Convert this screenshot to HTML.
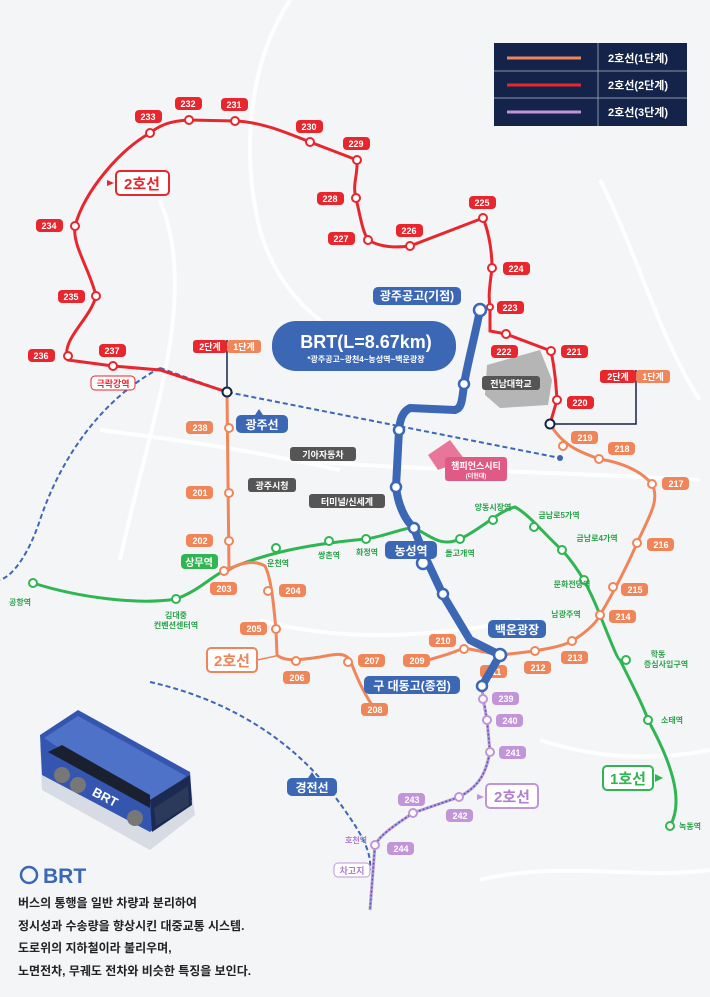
<!DOCTYPE html>
<html><head><meta charset="utf-8"><style>
html,body{margin:0;padding:0;background:#f3f4f6}
svg{display:block}
text{font-family:"Liberation Sans","Noto Sans CJK KR",sans-serif;font-weight:bold}
.lr text,.lo text,.lp text{fill:#fff;font-size:9px;text-anchor:middle}
.g{fill:#2aa34a;font-size:8px;text-anchor:middle}
.st{fill:#fff;stroke-width:2}
</style></head><body>
<svg width="710" height="997" viewBox="0 0 710 997" xmlns="http://www.w3.org/2000/svg">
<rect width="710" height="997" fill="#f4f5f7"/>
<g fill="none" stroke="#fff" stroke-width="4" opacity="0.9">
<path d="M290,0 C250,60 240,150 260,230 C280,300 330,340 420,370"/>
<path d="M160,200 C200,300 150,420 120,560"/>
<path d="M600,180 C640,260 660,340 700,400"/>
<path d="M300,460 C400,470 520,470 700,480"/>
<path d="M260,620 C330,640 420,640 520,620"/>
<path d="M540,740 C600,760 660,760 710,750"/>
<path d="M480,880 C560,860 640,880 710,870"/>
<path d="M100,430 C180,440 250,450 340,470"/>
</g>
<path d="M487,365 L540,350 L552,380 L548,405 L500,408 L485,395 Z" fill="#b5b5b5"/>
<rect x="482" y="376" width="58" height="14" rx="3" fill="#555"/><text x="511" y="387" font-size="9" fill="#fff" text-anchor="middle">전남대학교</text>
<path d="M428,455 L450,440 L465,460 L438,470 Z" fill="#e8769a"/>
<rect x="445" y="457" width="62" height="24" rx="3" fill="#e05a86"/><text x="476" y="469" font-size="9" fill="#fff" text-anchor="middle">챔피언스시티</text><text x="476" y="478" font-size="6" fill="#fff" text-anchor="middle">(더현대)</text>
<rect x="290" y="447" width="66" height="14" rx="3" fill="#555"/><text x="323" y="458" font-size="9" fill="#fff" text-anchor="middle">기아자동차</text>
<rect x="248" y="478" width="48" height="14" rx="3" fill="#555"/><text x="272" y="489" font-size="9" fill="#fff" text-anchor="middle">광주시청</text>
<rect x="309" y="494" width="76" height="14" rx="3" fill="#555"/><text x="347" y="505" font-size="9" fill="#fff" text-anchor="middle">터미널/신세계</text>
<rect x="494" y="43" width="193" height="83" fill="#142349"/>
<line x1="494" y1="71" x2="687" y2="71" stroke="#8a93a8"/><line x1="494" y1="98" x2="687" y2="98" stroke="#8a93a8"/><line x1="598" y1="43" x2="598" y2="126" stroke="#8a93a8"/>
<line x1="507" y1="58" x2="581" y2="58" stroke="#f0855a" stroke-width="3"/>
<line x1="507" y1="85" x2="581" y2="85" stroke="#e8262e" stroke-width="3"/>
<line x1="507" y1="112" x2="581" y2="112" stroke="#c195d8" stroke-width="3"/>
<text x="608" y="62" font-size="11" fill="#fff">2호선(1단계)</text>
<text x="608" y="89" font-size="11" fill="#fff">2호선(2단계)</text>
<text x="608" y="116" font-size="11" fill="#fff">2호선(3단계)</text>
<g fill="none" stroke="#3b67b5" stroke-width="2" stroke-dasharray="5,3">
<path d="M160,368 L227,392 L560,458"/>
<path d="M160,368 C100,400 60,460 40,520 C30,550 15,575 0,580"/>
<path d="M150,682 C230,700 290,740 330,790 C360,830 372,850 370,870"/>
</g>
<circle cx="560" cy="458" r="3" fill="#3b67b5"/>
<path d="M33,583 C80,598 140,605 176,599 C200,590 212,576 224,571 C260,555 300,545 366,539 C390,535 405,527 414,528 C430,535 440,548 460,539 C480,530 500,510 515,507 C530,515 545,535 562,550 C580,570 590,590 600,615 C610,640 618,660 620,660 C635,690 645,710 648,720 C670,760 685,800 670,826" fill="none" stroke="#2fb552" stroke-width="3"/>
<g class="st" stroke="#2fb552"><circle cx="33" cy="583" r="4"/><circle cx="176" cy="599" r="4"/><circle cx="276" cy="548" r="4"/><circle cx="329" cy="541" r="4"/><circle cx="366" cy="539" r="4"/><circle cx="460" cy="539" r="4"/><circle cx="493" cy="520" r="4"/><circle cx="534" cy="527" r="4"/><circle cx="562" cy="550" r="4"/><circle cx="584" cy="580" r="4"/><circle cx="626" cy="660" r="4"/><circle cx="648" cy="720" r="4"/><circle cx="670" cy="826" r="4"/></g>
<text class="g" x="20" y="605">공항역</text><text class="g" x="176" y="618">김대중</text><text class="g" x="176" y="628">컨벤션센터역</text>
<text class="g" x="278" y="566">운천역</text><text class="g" x="329" y="558">쌍촌역</text><text class="g" x="367" y="555">화정역</text>
<text class="g" x="460" y="556">돌고개역</text><text class="g" x="493" y="510">양동시장역</text><text class="g" x="559" y="518">금남로5가역</text><text class="g" x="597" y="541">금남로4가역</text><text class="g" x="572" y="587">문화전당역</text><text class="g" x="566" y="617">남광주역</text><text class="g" x="658" y="657">학동</text><text class="g" x="666" y="667">증심사입구역</text><text class="g" x="672" y="723">소태역</text><text class="g" x="690" y="829">녹동역</text>
<rect x="181" y="554" width="37" height="15" rx="4" fill="#2fb552"/><text x="199" y="566" font-size="10" fill="#fff" text-anchor="middle">상무역</text>
<rect x="603" y="766" width="50" height="24" rx="4" fill="#fff" stroke="#2fb552" stroke-width="2"/><text x="628" y="784" font-size="15" fill="#2fb552" text-anchor="middle">1호선</text><path d="M655,774 l8,4 -8,4z" fill="#2fb552"/>
<path d="M227,392 L229,570 C240,562 255,560 265,566 C272,580 274,610 276,630 L277,655 C285,662 300,660 320,657 C335,654 345,652 350,660 C356,675 362,690 372,705" fill="none" stroke="#f0855a" stroke-width="3"/>
<path d="M420,662 C440,657 455,652 464,648 L500,655 C530,652 560,648 572,641 C590,630 598,620 600,615 C615,590 630,560 637,543 C650,515 660,500 652,484 C640,470 620,462 599,459 C580,452 563,446 550,424" fill="none" stroke="#f0855a" stroke-width="3"/>
<g class="st" stroke="#f0855a"><circle cx="229" cy="428" r="4"/><circle cx="229" cy="493" r="4"/><circle cx="229" cy="541" r="4"/><circle cx="224" cy="571" r="4"/><circle cx="268" cy="591" r="4"/><circle cx="276" cy="629" r="4"/><circle cx="296" cy="661" r="4"/><circle cx="348" cy="662" r="4"/><circle cx="464" cy="649" r="4"/><circle cx="535" cy="651" r="4"/><circle cx="572" cy="641" r="4"/><circle cx="600" cy="615" r="4"/><circle cx="613" cy="587" r="4"/><circle cx="637" cy="543" r="4"/><circle cx="652" cy="484" r="4"/><circle cx="599" cy="459" r="4"/><circle cx="563" cy="446" r="4"/></g>
<g class="lo" fill="#f0855a">
<rect x="186" y="421" width="27" height="13" rx="4"/><rect x="186" y="486" width="27" height="13" rx="4"/><rect x="186" y="534" width="27" height="13" rx="4"/><rect x="210" y="582" width="27" height="13" rx="4"/><rect x="279" y="584" width="27" height="13" rx="4"/><rect x="240" y="622" width="27" height="13" rx="4"/><rect x="283" y="671" width="27" height="13" rx="4"/><rect x="358" y="654" width="27" height="13" rx="4"/><rect x="361" y="703" width="27" height="13" rx="4"/><rect x="403" y="654" width="27" height="13" rx="4"/><rect x="429" y="634" width="27" height="13" rx="4"/><rect x="480" y="665" width="27" height="13" rx="4"/><rect x="524" y="661" width="27" height="13" rx="4"/><rect x="561" y="651" width="27" height="13" rx="4"/><rect x="609" y="610" width="27" height="13" rx="4"/><rect x="621" y="583" width="27" height="13" rx="4"/><rect x="647" y="538" width="27" height="13" rx="4"/><rect x="662" y="477" width="27" height="13" rx="4"/><rect x="608" y="442" width="27" height="13" rx="4"/><rect x="571" y="431" width="27" height="13" rx="4"/>
<text x="200" y="431">238</text><text x="200" y="496">201</text><text x="200" y="544">202</text><text x="224" y="592">203</text><text x="293" y="594">204</text><text x="254" y="632">205</text><text x="297" y="681">206</text><text x="372" y="664">207</text><text x="375" y="713">208</text><text x="417" y="664">209</text><text x="443" y="644">210</text><text x="494" y="675">211</text><text x="538" y="671">212</text><text x="575" y="661">213</text><text x="623" y="620">214</text><text x="635" y="593">215</text><text x="661" y="548">216</text><text x="676" y="487">217</text><text x="622" y="452">218</text><text x="585" y="441">219</text>
</g>
<rect x="207" y="648" width="50" height="24" rx="4" fill="#fff" stroke="#f0855a" stroke-width="2"/><text x="232" y="666" font-size="15" fill="#f0855a" text-anchor="middle">2호선</text><line x1="257" y1="660" x2="276" y2="656" stroke="#f0855a" stroke-width="1.5"/>
<path d="M227,392 L160,370 L113,366 L68,360 C60,340 90,320 96,296 C90,270 72,245 75,226 C85,190 120,150 150,133 C160,125 170,121 189,120 L235,121 C260,122 280,130 310,142 L357,160 C358,175 352,185 356,198 C360,215 362,230 368,240 C380,247 395,248 410,246 L483,218 C490,235 492,255 492,268 C490,285 488,295 490,307 L490,331 L506,334 L551,351 C555,370 556,385 557,400 L550,424" fill="none" stroke="#e8262e" stroke-width="3"/>
<g class="st" stroke="#e8262e"><circle cx="113" cy="366" r="4"/><circle cx="68" cy="356" r="4"/><circle cx="96" cy="296" r="4"/><circle cx="75" cy="226" r="4"/><circle cx="150" cy="133" r="4"/><circle cx="189" cy="120" r="4"/><circle cx="235" cy="121" r="4"/><circle cx="310" cy="142" r="4"/><circle cx="357" cy="160" r="4"/><circle cx="356" cy="198" r="4"/><circle cx="368" cy="240" r="4"/><circle cx="410" cy="246" r="4"/><circle cx="483" cy="218" r="4"/><circle cx="492" cy="268" r="4"/><circle cx="490" cy="307" r="3"/><circle cx="506" cy="334" r="4"/><circle cx="551" cy="351" r="4"/><circle cx="557" cy="400" r="4"/></g>
<g class="lr" fill="#e8262e">
<rect x="135" y="110" width="27" height="13" rx="4"/><rect x="175" y="97" width="27" height="13" rx="4"/><rect x="221" y="98" width="27" height="13" rx="4"/><rect x="296" y="120" width="27" height="13" rx="4"/><rect x="343" y="137" width="27" height="13" rx="4"/><rect x="317" y="192" width="27" height="13" rx="4"/><rect x="328" y="232" width="27" height="13" rx="4"/><rect x="396" y="224" width="27" height="13" rx="4"/><rect x="469" y="196" width="27" height="13" rx="4"/><rect x="503" y="262" width="27" height="13" rx="4"/><rect x="497" y="301" width="27" height="13" rx="4"/><rect x="491" y="345" width="27" height="13" rx="4"/><rect x="561" y="345" width="27" height="13" rx="4"/><rect x="567" y="396" width="27" height="13" rx="4"/><rect x="36" y="219" width="27" height="13" rx="4"/><rect x="58" y="290" width="27" height="13" rx="4"/><rect x="28" y="349" width="27" height="13" rx="4"/><rect x="99" y="344" width="27" height="13" rx="4"/>
<text x="148" y="120">233</text><text x="188" y="107">232</text><text x="234" y="108">231</text><text x="309" y="130">230</text><text x="356" y="147">229</text><text x="330" y="202">228</text><text x="341" y="242">227</text><text x="409" y="234">226</text><text x="482" y="206">225</text><text x="516" y="272">224</text><text x="510" y="311">223</text><text x="504" y="355">222</text><text x="574" y="355">221</text><text x="580" y="406">220</text><text x="49" y="229">234</text><text x="71" y="300">235</text><text x="41" y="359">236</text><text x="112" y="354">237</text>
</g>
<rect x="116" y="171" width="53" height="24" rx="4" fill="#fff" stroke="#e8262e" stroke-width="2"/><text x="142" y="189" font-size="15" fill="#e8262e" text-anchor="middle">2호선</text><path d="M114,183 l-7,-3 0,6z" fill="#e8262e"/>
<rect x="91" y="376" width="44" height="14" rx="4" fill="#fff" stroke="#e8262e"/><text x="113" y="387" font-size="9" fill="#e8262e" text-anchor="middle">극락강역</text>
<line x1="227" y1="340" x2="227" y2="392" stroke="#142349" stroke-width="1.5"/>
<rect x="193" y="340" width="34" height="13" rx="3" fill="#e8262e"/><rect x="227" y="340" width="34" height="13" rx="3" fill="#f0855a"/>
<text x="210" y="350" font-size="9" fill="#fff" text-anchor="middle">2단계</text><text x="244" y="350" font-size="9" fill="#fff" text-anchor="middle">1단계</text>
<polyline points="550,424 636,424 636,370" fill="none" stroke="#142349" stroke-width="1.5"/>
<rect x="600" y="370" width="36" height="13" rx="3" fill="#e8262e"/><rect x="636" y="370" width="34" height="13" rx="3" fill="#f0855a"/>
<text x="618" y="380" font-size="9" fill="#fff" text-anchor="middle">2단계</text><text x="653" y="380" font-size="9" fill="#fff" text-anchor="middle">1단계</text>
<circle cx="227" cy="392" r="4.5" fill="#fff" stroke="#142349" stroke-width="2"/><circle cx="550" cy="424" r="4.5" fill="#fff" stroke="#142349" stroke-width="2"/>
<path d="M482,686 L483,699 L487,720 L490,752 C486,770 482,785 459,797 L413,813 C395,825 380,835 375,845 L370,910" fill="none" stroke="#c195d8" stroke-width="3"/>
<path d="M482,686 L487,720 L490,752 C486,770 482,785 459,797 L413,813 C395,825 380,835 375,845 L370,910" fill="none" stroke="#3b67b5" stroke-width="1.5" stroke-dasharray="2,2"/>
<g class="st" stroke="#c195d8"><circle cx="483" cy="699" r="4"/><circle cx="487" cy="720" r="4"/><circle cx="490" cy="752" r="4"/><circle cx="459" cy="797" r="4"/><circle cx="413" cy="813" r="4"/><circle cx="375" cy="845" r="4"/></g>
<g class="lp" fill="#c195d8">
<rect x="492" y="692" width="27" height="13" rx="4"/><rect x="496" y="714" width="27" height="13" rx="4"/><rect x="499" y="746" width="27" height="13" rx="4"/><rect x="446" y="809" width="27" height="13" rx="4"/><rect x="398" y="793" width="27" height="13" rx="4"/><rect x="387" y="842" width="27" height="13" rx="4"/>
<text x="506" y="702">239</text><text x="510" y="724">240</text><text x="513" y="756">241</text><text x="460" y="819">242</text><text x="412" y="803">243</text><text x="401" y="852">244</text>
</g>
<rect x="486" y="784" width="52" height="24" rx="4" fill="#fff" stroke="#c195d8" stroke-width="2"/><text x="512" y="802" font-size="15" fill="#b07fcf" text-anchor="middle">2호선</text><path d="M484,797 l-7,-3 0,6z" fill="#c195d8"/>
<text x="356" y="843" font-size="8" fill="#b07fcf" text-anchor="middle">호천역</text>
<rect x="334" y="863" width="36" height="14" rx="4" fill="#fff" stroke="#c195d8"/><text x="352" y="874" font-size="9" fill="#b07fcf" text-anchor="middle">차고지</text>
<path d="M480,310 C474,340 466,370 464,385 C462,400 462,408 455,410 L410,408 C402,412 400,420 399,430 L396,487 C398,505 405,520 414,528 C420,545 425,556 428,563 L443,595 L470,640 L500,655 L482,686" fill="none" stroke="#3b67b5" stroke-width="8" stroke-linejoin="round"/>
<g fill="#fff" stroke="#3b67b5" stroke-width="2.5"><circle cx="480" cy="310" r="6"/><circle cx="464" cy="384" r="5"/><circle cx="399" cy="430" r="5"/><circle cx="396" cy="487" r="5"/><circle cx="414" cy="528" r="5"/><circle cx="423" cy="563" r="6"/><circle cx="443" cy="594" r="5"/><circle cx="500" cy="655" r="6"/><circle cx="482" cy="686" r="5"/></g>
<rect x="373" y="287" width="88" height="18" rx="5" fill="#3b67b5"/><text x="417" y="300" font-size="12" fill="#fff" text-anchor="middle">광주공고(기점)</text>
<rect x="272" y="321" width="184" height="50" rx="24" fill="#3b67b5"/><text x="366" y="348" font-size="18" fill="#fff" text-anchor="middle">BRT(L=8.67km)</text><text x="366" y="362" font-size="8" fill="#fff" text-anchor="middle">*광주공고~광천4~농성역~백운광장</text>
<rect x="236" y="415" width="52" height="18" rx="5" fill="#3b67b5"/><text x="262" y="429" font-size="12" fill="#fff" text-anchor="middle">광주선</text><path d="M255,415 l4,-6 4,6z" fill="#3b67b5"/>
<rect x="385" y="541" width="52" height="18" rx="5" fill="#3b67b5"/><text x="411" y="555" font-size="12" fill="#fff" text-anchor="middle">농성역</text>
<rect x="488" y="620" width="58" height="18" rx="5" fill="#3b67b5"/><text x="517" y="634" font-size="12" fill="#fff" text-anchor="middle">백운광장</text>
<rect x="364" y="676" width="96" height="18" rx="5" fill="#3b67b5"/><text x="412" y="690" font-size="12" fill="#fff" text-anchor="middle">구 대동고(종점)</text>
<rect x="287" y="778" width="50" height="18" rx="5" fill="#3b67b5"/><text x="312" y="792" font-size="12" fill="#fff" text-anchor="middle">경전선</text><path d="M308,778 l4,-6 4,6z" fill="#3b67b5"/>
<g>
<path d="M40,745 L78,718 L190,780 L195,815 L150,850 L42,790 Z" fill="#d7dbe3"/>
<path d="M40,735 L78,710 L190,772 L192,800 L150,832 L42,775 Z" fill="#3456b0"/>
<path d="M44,738 L78,716 L186,776 L150,808 Z" fill="#4e72c8"/>
<path d="M62,745 L150,795 L150,808 L48,752 Z" fill="#1a2030"/>
<path d="M150,800 L190,775 L192,805 L152,832 Z" fill="#1a2a50"/>
<path d="M154,808 L188,786 L189,805 L156,826 Z" fill="#2b3a5a"/>
<circle cx="62" cy="775" r="8" fill="#777"/><circle cx="78" cy="785" r="8" fill="#777"/><circle cx="135" cy="818" r="8" fill="#777"/>
<text x="92" y="800" font-size="13" fill="#fff" transform="rotate(28 102 796)">BRT</text>
</g>
<circle cx="29" cy="875" r="8" fill="none" stroke="#3b67b5" stroke-width="2.5"/>
<text x="43" y="883" font-size="21" fill="#3b67b5">BRT</text>
<g font-size="12" fill="#222"><text x="18" y="907">버스의 통행을 일반 차량과 분리하여</text><text x="18" y="930">정시성과 수송량을 향상시킨 대중교통 시스템.</text><text x="18" y="952">도로위의 지하철이라 불리우며,</text><text x="18" y="975">노면전차, 무궤도 전차와 비슷한 특징을 보인다.</text></g>
</svg>
</body></html>
